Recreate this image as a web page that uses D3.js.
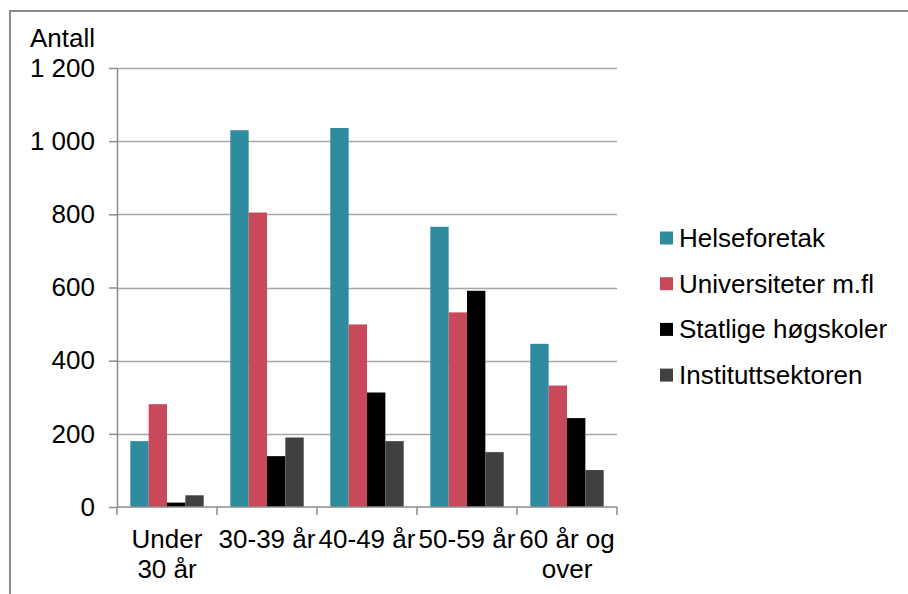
<!DOCTYPE html>
<html>
<head>
<meta charset="utf-8">
<script src="https://cdn.jsdelivr.net/npm/d3@7"></script>
<style>
  html, body { margin: 0; padding: 0; background: #fff; }
  svg { display: block; }
  text { font-family: "Liberation Sans", Arial, sans-serif; fill: #000; }
</style>
</head>
<body>
<svg id="chart" width="908" height="594"></svg>
<script>
// Age groups (line breaks mark where the label wraps)
const categories = ["Under\n30 år", "30-39 år", "40-49 år", "50-59 år", "60 år og\nover"];
const series = ["Helseforetak", "Universiteter m.fl", "Statlige høgskoler", "Instituttsektoren"];
const colors = ["#2E8C9E", "#C84A5A", "#000000", "#404040"];

// Number of persons per sector and age group
const helseforetak     = [180, 1030, 1036, 766, 446];
const universiteter    = [281, 805, 499, 532, 332];
const statligeHogskoler = [12, 139, 313, 591, 243];
const instituttsektoren = [32, 190, 180, 150, 101];
const seriesValues = [helseforetak, universiteter, statligeHogskoler, instituttsektoren];

const yTicks = [0, 200, 400, 600, 800, 1000, 1200];
const yTitle = "Antall";

const svg = d3.select("#chart");
const W = 908, H = 594;
const FS = 26;
const plot = { left: 117, right: 617, top: 68, bottom: 507 };

// Outer chart frame
svg.append("rect")
  .attr("x", 10).attr("y", 11)
  .attr("width", W + 20).attr("height", H + 20)
  .attr("fill", "#fff").attr("stroke", "#8a8a8a").attr("stroke-width", 2);

const nb = d3.formatLocale({ decimal: ",", thousands: "\u00a0", grouping: [3], currency: ["kr ", ""] });
const fmt = nb.format(",d");

const y = d3.scaleLinear().domain([0, 1200]).range([plot.bottom, plot.top]);
const x0 = d3.scaleBand().domain(categories).range([plot.left, plot.right]).padding(0);
const groupPad = x0.bandwidth() * 0.133;
const x1 = d3.scaleBand().domain(series).range([groupPad, x0.bandwidth() - groupPad]).padding(0);

// Horizontal gridlines
svg.append("g")
  .selectAll("line")
  .data(yTicks.filter(t => t > 0))
  .join("line")
  .attr("x1", plot.left).attr("x2", plot.right)
  .attr("y1", d => Math.round(y(d)) + 0.5).attr("y2", d => Math.round(y(d)) + 0.5)
  .attr("stroke", "#a6a6a6").attr("stroke-width", 1.5);

// Bars
const groups = svg.append("g")
  .selectAll("g")
  .data(categories)
  .join("g")
  .attr("transform", d => `translate(${x0(d)},0)`);

groups.selectAll("rect")
  .data((c, ci) => series.map((s, si) => ({ s, si, v: seriesValues[si][ci] })))
  .join("rect")
  .attr("x", d => x1(d.s))
  .attr("width", x1.bandwidth())
  .attr("y", d => y(d.v))
  .attr("height", d => y(0) - y(d.v))
  .attr("fill", d => colors[d.si]);

// Y axis
const yAxis = svg.append("g")
  .attr("transform", `translate(${plot.left},0)`)
  .call(d3.axisLeft(y).tickValues(yTicks).tickFormat(fmt).tickSize(8).tickSizeOuter(0).tickPadding(14));
yAxis.select(".domain").attr("stroke", "#8c8c8c").attr("stroke-width", 1.5);
yAxis.selectAll(".tick line").attr("stroke", "#8c8c8c").attr("stroke-width", 1.5);
yAxis.selectAll(".tick text")
  .style("font-family", "'Liberation Sans', Arial, sans-serif")
  .attr("font-size", FS).attr("fill", "#000");

// X axis line and boundary ticks
const xg = svg.append("g");
xg.append("line")
  .attr("x1", plot.left).attr("x2", plot.right)
  .attr("y1", plot.bottom).attr("y2", plot.bottom)
  .attr("stroke", "#8c8c8c").attr("stroke-width", 1.5);
const bounds = categories.map(c => x0(c)).concat([x0(categories[categories.length - 1]) + x0.bandwidth()]);
xg.selectAll("line.tk")
  .data(bounds)
  .join("line")
  .attr("class", "tk")
  .attr("x1", d => d).attr("x2", d => d)
  .attr("y1", plot.bottom).attr("y2", plot.bottom + 8)
  .attr("stroke", "#8c8c8c").attr("stroke-width", 1.5);

// Category labels
xg.selectAll("text")
  .data(categories)
  .join("text")
  .attr("text-anchor", "middle")
  .attr("font-size", FS)
  .attr("transform", d => `translate(${x0(d) + x0.bandwidth() / 2},${548})`)
  .each(function (d) {
    d.split("\n").forEach((line, i) => {
      d3.select(this).append("tspan").attr("x", 0).attr("y", i * 30).text(line);
    });
  });

// Y axis title
svg.append("text")
  .attr("x", 30).attr("y", 47)
  .attr("font-size", FS)
  .text(yTitle);

// Legend
const legend = svg.append("g")
  .selectAll("g")
  .data(series)
  .join("g")
  .attr("transform", (d, i) => `translate(660,${238 + i * 45.7})`);
legend.append("rect")
  .attr("x", 0).attr("y", -6.5)
  .attr("width", 13).attr("height", 13)
  .attr("fill", (d, i) => colors[i]);
legend.append("text")
  .attr("x", 19).attr("y", 9)
  .attr("font-size", FS)
  .text(d => d);
</script>
</body>
</html>
